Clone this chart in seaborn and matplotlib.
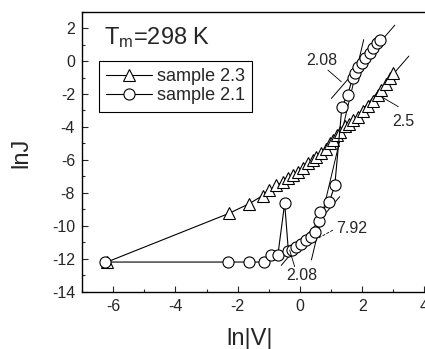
import matplotlib
matplotlib.use("Agg")
import matplotlib.pyplot as plt
import seaborn as sns
import numpy as np

# ---------------- data ----------------
tri_label = "sample 2.3"
tri_x = [-6.2, -2.27, -1.63, -1.2, -0.98, -0.76, -0.55, -0.39, -0.23, -0.06, 0.1, 0.26,
         0.42, 0.53, 0.69, 0.85, 0.96, 1.06, 1.2, 1.3, 1.44, 1.58, 1.71, 1.87, 2.03,
         2.19, 2.35, 2.51, 2.62, 2.78, 2.89, 2.98]
tri_y = [-12.2, -9.24, -8.66, -8.17, -7.85, -7.55, -7.32, -7.12, -6.92, -6.72, -6.51, -6.21,
         -6.0, -5.81, -5.6, -5.36, -5.0, -4.79, -4.5, -4.3, -3.95, -3.8, -3.6, -3.4, -3.05,
         -2.75, -2.4, -2.05, -1.75, -1.4, -1.05, -0.75]

circ_label = "sample 2.1"
circ_x = [-6.27, -2.32, -1.64, -1.14, -0.92, -0.71, -0.49, -0.37, -0.26, -0.12, 0.04, 0.2,
          0.37, 0.47, 0.6, 0.66, 0.94, 1.12, 1.35, 1.53, 1.69, 1.78, 1.85, 2.0, 2.1,
          2.24, 2.35, 2.49, 2.57]
circ_y = [-12.2, -12.2, -12.2, -12.2, -11.8, -11.8, -8.63, -11.55, -11.45, -11.27, -11.08, -10.86,
          -10.66, -10.35, -9.7, -9.18, -8.58, -7.55, -2.77, -2.06, -1.05, -0.7, -0.35, -0.14, 0.16,
          0.47, 0.77, 1.07, 1.27]

# fitted straight lines (x0, y0, x1, y1)
fit_low_208 = [-0.6, -12.4, 1.28, -8.23]
fit_792 = [0.37, -12.07, 2.05, 1.3]
fit_up_208 = [1.01, -2.27, 3.05, 2.18]
fit_25 = [1.25, -4.6, 3.5, 0.3]

# slope labels: text, text position, leader line (x0, y0, x1, y1)
slope_labels = ["2.08", "2.5", "7.92", "2.08"]
slope_text_xy = [(0.69, 0.06), (3.32, -3.68), (1.65, -10.15), (0.05, -12.99)]
slope_leaders = [(0.9, -0.55, 1.33, -1.26), (2.62, -2.17, 3.16, -2.77),
                 (1.06, -10.26, 0.58, -10.76), (-0.33, -11.47, -0.17, -12.48)]

title_text = r"T$_{\rm m}$=298 K"
x_label = "ln|V|"
y_label = "lnJ"
x_ticks = [-6, -4, -2, 0, 2, 4]
y_ticks = [-14, -12, -10, -8, -6, -4, -2, 0, 2]

# ---------------- style ----------------
sns.set_style("ticks")
plt.rcParams["font.family"] = ["Liberation Sans", "DejaVu Sans"]
plt.rcParams["mathtext.fontset"] = "custom"
plt.rcParams["mathtext.rm"] = "Liberation Sans"
plt.rcParams["mathtext.it"] = "Liberation Sans:italic"
plt.rcParams["axes.unicode_minus"] = False

fig = plt.figure(figsize=(4.25, 3.49), dpi=100)
ax = fig.add_axes([82 / 425, 57.3 / 349, 344 / 425, 280.1 / 349])

common = dict(sort=False, estimator=None, color="black", linewidth=0.8,
              markerfacecolor="white", markeredgecolor="black",
              markeredgewidth=0.8, ax=ax)
sns.lineplot(x=tri_x, y=tri_y, marker="^", markersize=8.5, label=tri_label, **common)
sns.lineplot(x=circ_x, y=circ_y, marker="o", markersize=8, label=circ_label, **common)

for seg in (fit_low_208, fit_792, fit_up_208, fit_25):
    ax.plot([seg[0], seg[2]], [seg[1], seg[3]], color="black", lw=0.7, zorder=1)

for txt, (tx, ty), ld in zip(slope_labels, slope_text_xy, slope_leaders):
    ax.text(tx, ty, txt, fontsize=11.5, ha="center", va="center")
    ls = "--" if txt == "7.92" else "-"
    ax.plot([ld[0], ld[2]], [ld[1], ld[3]], color="black", lw=0.6, ls=ls)

ax.text(-6.3, 1.0, title_text, fontsize=17, ha="left", va="baseline")

ax.set_xlim(-7, 4.05)
ax.set_ylim(-14, 3)
ax.set_xticks(x_ticks)
ax.set_yticks(y_ticks)
ax.set_xticks(np.arange(-7, 4.5, 1), minor=True)
ax.set_yticks(np.arange(-13, 3.5, 2), minor=True)
ax.tick_params(which="major", direction="in", length=4, width=0.8, labelsize=11.5, pad=5)
ax.tick_params(which="minor", direction="in", length=2.5, width=0.8)
for s in ax.spines.values():
    s.set_linewidth(1.0)
    s.set_color("black")
ax.spines["right"].set_visible(False)

ax.set_xlabel(x_label, fontsize=17)
ax.set_ylabel(y_label, fontsize=17)
ax.xaxis.set_label_coords(0.488, -0.128)
ax.yaxis.set_label_coords(-0.145, 0.495)

leg = ax.legend(loc="upper left", bbox_to_anchor=(0.05, 0.824), borderaxespad=0,
                fontsize=13, handlelength=2.5, handletextpad=0.3, borderpad=0.4,
                labelspacing=0.12, fancybox=False, framealpha=1, edgecolor="black")
leg.get_frame().set_linewidth(0.8)

fig.savefig("out.png", dpi=100)
